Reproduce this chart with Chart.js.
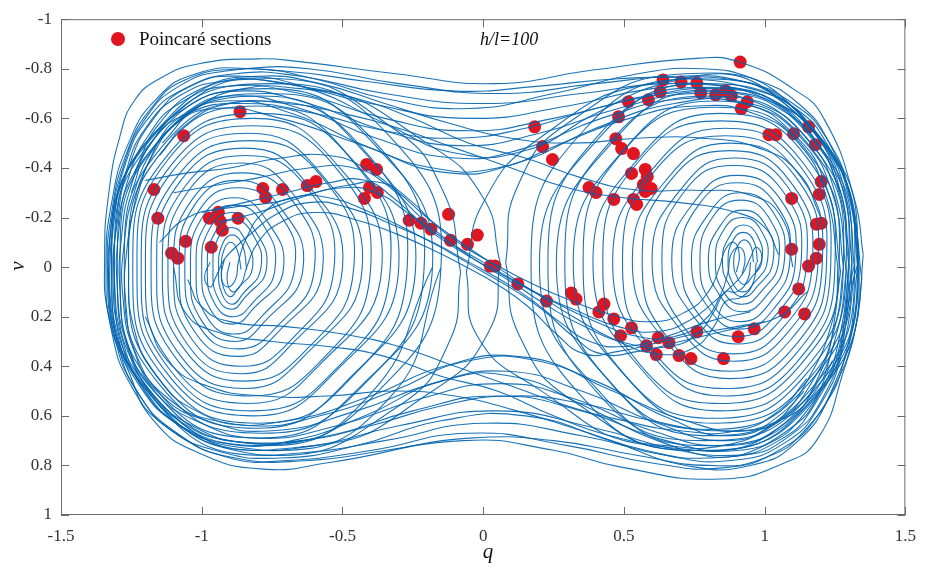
<!DOCTYPE html>
<html>
<head>
<meta charset="utf-8">
<script src="https://cdn.jsdelivr.net/npm/chart.js@4.4.1/dist/chart.umd.min.js"></script>
<style>
  html, body { margin: 0; background: #fff; }
</style>
</head>
<body>
<canvas id="phaseChart" width="927" height="570"></canvas>
<script>
// Axis ticks
const xTicks = [-1.5, -1, -0.5, 0, 0.5, 1, 1.5];
const yTicks = [-1, -0.8, -0.6, -0.4, -0.2, 0, 0.2, 0.4, 0.6, 0.8, 1];

// Poincare section points [q, v]
const sectionPoints = [
  [-1.170,-0.313],[-1.156,-0.197],[-1.107,-0.056],[-1.085,-0.036],[-1.057,-0.104],[-0.966,-0.080],
  [-0.973,-0.197],[-0.941,-0.221],[-0.934,-0.185],[-0.927,-0.149],[-0.871,-0.197],[-0.864,-0.627],
  [-1.064,-0.530],[-0.783,-0.317],[-0.773,-0.281],[-0.713,-0.313],[-0.625,-0.329],[-0.594,-0.345],
  [-0.414,-0.414],[-0.379,-0.394],[-0.404,-0.321],[-0.376,-0.301],[-0.422,-0.277],[-0.263,-0.189],
  [-0.221,-0.177],[-0.186,-0.153],[-0.123,-0.213],[-0.116,-0.108],[-0.056,-0.092],[-0.021,-0.129],
  [0.025,-0.004],[0.042,-0.004],[0.123,0.068],[0.225,0.137],[0.313,0.104],[0.330,0.129],
  [0.411,0.181],[0.429,0.149],[0.464,0.209],[0.488,0.277],[0.527,0.245],[0.580,0.317],
  [0.622,0.285],[0.660,0.305],[0.615,0.353],[0.696,0.357],[0.738,0.369],[0.759,0.261],
  [0.854,0.369],[0.906,0.281],[0.963,0.249],[1.071,0.181],[1.142,0.189],[1.121,0.088],
  [1.156,-0.004],[1.184,-0.036],[1.096,-0.072],[1.194,-0.092],[1.201,-0.177],[1.184,-0.173],
  [1.096,-0.277],[1.194,-0.293],[1.201,-0.345],[1.180,-0.494],[1.156,-0.566],[1.103,-0.538],
  [1.040,-0.534],[1.015,-0.534],[0.938,-0.667],[0.917,-0.639],[0.913,-0.827],[0.882,-0.691],
  [0.861,-0.711],[0.826,-0.695],[0.773,-0.703],[0.759,-0.743],[0.703,-0.747],[0.639,-0.755],
  [0.629,-0.707],[0.587,-0.675],[0.516,-0.667],[0.481,-0.606],[0.471,-0.518],[0.492,-0.478],
  [0.534,-0.458],[0.527,-0.378],[0.576,-0.394],[0.583,-0.365],[0.569,-0.333],[0.597,-0.317],
  [0.576,-0.305],[0.534,-0.273],[0.545,-0.253],[0.464,-0.273],[0.401,-0.301],[0.376,-0.321],
  [0.183,-0.566],[0.211,-0.486],[0.246,-0.434]
];

// trajectory winding around the left well, inside out
const leftWellSpiral = [
  [-0.86,0.01],[-0.874,-0.069],[-0.897,-0.10],[-0.921,-0.069],[-0.93,0.01],[-0.921,0.089],[-0.897,0.12],[-0.874,0.089],
  [-0.82,0.005],[-0.848,-0.114],[-0.894,-0.16],[-0.943,-0.114],[-0.96,0.005],[-0.943,0.124],[-0.894,0.17],[-0.848,0.124],
  [-0.77,0.005],[-0.816,-0.157],[-0.891,-0.22],[-0.971,-0.157],[-1.0,0.005],[-0.971,0.167],[-0.891,0.23],[-0.816,0.167],
  [-0.71,0.01],[-0.776,-0.199],[-0.883,-0.28],[-0.999,-0.199],[-1.04,0.01],[-0.999,0.219],[-0.883,0.30],[-0.776,0.219],
  [-0.64,0.005],[-0.728,-0.251],[-0.871,-0.35],[-1.025,-0.251],[-1.08,0.005],[-1.025,0.261],[-0.871,0.36],[-0.728,0.261],
  [-0.57,0.005],[-0.68,-0.301],[-0.859,-0.42],[-1.051,-0.301],[-1.12,0.005],[-1.051,0.311],[-0.859,0.43],[-0.68,0.311],
  [-0.50,0.005],[-0.632,-0.344],[-0.847,-0.48],[-1.078,-0.344],[-1.16,0.005],[-1.078,0.354],[-0.847,0.49],[-0.632,0.354],
  [-0.43,0.005],[-0.584,-0.387],[-0.834,-0.54],[-1.104,-0.387],[-1.20,0.005],[-1.104,0.397],[-0.834,0.55],[-0.584,0.397],
  [-0.36,0],[-0.534,-0.432],[-0.817,-0.60],[-1.121,-0.432],[-1.23,0],[-1.121,0.432],[-0.817,0.60],[-0.534,0.432],
  [-0.30,0],[-0.492,-0.468],[-0.804,-0.65],[-1.14,-0.468],[-1.26,0],[-1.14,0.468],[-0.804,0.65],[-0.492,0.468],
  [-0.24,0],[-0.45,-0.497],[-0.791,-0.69],[-1.159,-0.497],[-1.29,0],[-1.159,0.497],[-0.791,0.69],[-0.45,0.497],
  [-0.18,0],[-0.406,-0.518],[-0.773,-0.72],[-1.169,-0.518],[-1.31,0],[-1.169,0.518],[-0.773,0.72],[-0.406,0.518],[-0.18,0]
];

// a second pass around the left well, between the first loops
const leftWellSpiral2 = [
  [-0.84,0.01],[-0.856,-0.091],[-0.892,-0.13],[-0.927,-0.091],[-0.94,0.01],[-0.927,0.111],[-0.892,0.15],[-0.856,0.111],
  [-0.79,0.005],[-0.82,-0.135],[-0.888,-0.19],[-0.955,-0.135],[-0.98,0.005],[-0.955,0.145],[-0.888,0.20],[-0.82,0.145],
  [-0.74,0.01],[-0.785,-0.177],[-0.884,-0.25],[-0.984,-0.177],[-1.02,0.01],[-0.984,0.197],[-0.884,0.27],[-0.785,0.197],
  [-0.67,0.005],[-0.732,-0.229],[-0.871,-0.32],[-1.009,-0.229],[-1.06,0.005],[-1.009,0.239],[-0.871,0.33],[-0.732,0.239],
  [-0.60,0.01],[-0.68,-0.271],[-0.858,-0.38],[-1.035,-0.271],[-1.10,0.01],[-1.035,0.291],[-0.858,0.40],[-0.68,0.291],
  [-0.53,0.005],[-0.628,-0.323],[-0.844,-0.45],[-1.061,-0.323],[-1.14,0.005],[-1.061,0.333],[-0.844,0.46],[-0.628,0.333],
  [-0.46,0.005],[-0.575,-0.366],[-0.831,-0.51],[-1.086,-0.366],[-1.18,0.005],[-1.086,0.376],[-0.831,0.52],[-0.575,0.376],
  [-0.40,0.005],[-0.53,-0.409],[-0.82,-0.57],[-1.11,-0.409],[-1.215,0.005],[-1.11,0.419],[-0.82,0.58],[-0.53,0.419],
  [-0.33,0.005],[-0.476,-0.445],[-0.801,-0.62],[-1.126,-0.445],[-1.245,0.005],[-1.126,0.455],[-0.801,0.63],[-0.476,0.455],
  [-0.27,0],[-0.431,-0.482],[-0.788,-0.67],[-1.144,-0.482],[-1.275,0],[-1.144,0.482],[-0.788,0.67],[-0.431,0.482],
  [-0.21,0.005],[-0.384,-0.503],[-0.771,-0.70],[-1.158,-0.503],[-1.30,0.005],[-1.158,0.513],[-0.771,0.71],[-0.384,0.513],
  [-0.15,0],[-0.337,-0.533],[-0.753,-0.74],[-1.168,-0.533],[-1.32,0],[-1.168,0.533],[-0.753,0.74],[-0.337,0.533],[-0.15,0]
];

// trajectory winding around the right well, inside out
const rightWellSpiral = [
  [0.96,-0.02],[0.951,-0.085],[0.927,-0.11],[0.904,-0.085],[0.89,-0.02],[0.904,0.045],[0.927,0.07],[0.951,0.045],
  [0.99,-0.025],[0.973,-0.129],[0.924,-0.17],[0.878,-0.129],[0.85,-0.025],[0.878,0.079],[0.924,0.12],[0.973,0.079],
  [1.03,-0.025],[1.001,-0.173],[0.921,-0.23],[0.846,-0.173],[0.80,-0.025],[0.846,0.123],[0.921,0.18],[1.001,0.123],
  [1.07,-0.025],[1.029,-0.223],[0.913,-0.30],[0.806,-0.223],[0.74,-0.025],[0.806,0.173],[0.913,0.25],[1.029,0.173],
  [1.11,-0.03],[1.055,-0.275],[0.901,-0.37],[0.758,-0.275],[0.67,-0.03],[0.758,0.215],[0.901,0.31],[1.055,0.215],
  [1.15,-0.03],[1.081,-0.325],[0.889,-0.44],[0.71,-0.325],[0.60,-0.03],[0.71,0.265],[0.889,0.38],[1.081,0.265],
  [1.19,-0.025],[1.108,-0.367],[0.877,-0.50],[0.662,-0.367],[0.53,-0.025],[0.662,0.317],[0.877,0.45],[1.108,0.317],
  [1.22,-0.02],[1.125,-0.409],[0.859,-0.56],[0.612,-0.409],[0.46,-0.02],[0.612,0.369],[0.859,0.52],[1.125,0.369],
  [1.25,-0.02],[1.143,-0.452],[0.842,-0.62],[0.562,-0.452],[0.39,-0.02],[0.562,0.412],[0.842,0.58],[1.143,0.412],
  [1.28,-0.02],[1.16,-0.488],[0.824,-0.67],[0.512,-0.488],[0.32,-0.02],[0.512,0.448],[0.824,0.63],[1.16,0.448],
  [1.30,-0.015],[1.17,-0.515],[0.806,-0.71],[0.468,-0.515],[0.26,-0.015],[0.468,0.485],[0.806,0.68],[1.17,0.485],
  [1.32,-0.01],[1.18,-0.536],[0.788,-0.74],[0.424,-0.536],[0.20,-0.01],[0.424,0.516],[0.788,0.72],[1.18,0.516],[1.32,-0.01]
];

// a second pass around the right well
const rightWellSpiral2 = [
  [0.975,-0.02],[0.961,-0.106],[0.924,-0.14],[0.887,-0.106],[0.87,-0.02],[0.887,0.066],[0.924,0.10],[0.961,0.066],
  [1.01,-0.025],[0.986,-0.151],[0.92,-0.20],[0.855,-0.151],[0.825,-0.025],[0.855,0.101],[0.92,0.15],[0.986,0.101],
  [1.05,-0.025],[1.014,-0.201],[0.914,-0.27],[0.815,-0.201],[0.77,-0.025],[0.815,0.151],[0.914,0.22],[1.014,0.151],
  [1.09,-0.03],[1.04,-0.253],[0.903,-0.34],[0.767,-0.253],[0.705,-0.03],[0.767,0.193],[0.903,0.28],[1.04,0.193],
  [1.13,-0.03],[1.066,-0.304],[0.89,-0.41],[0.714,-0.304],[0.635,-0.03],[0.714,0.244],[0.89,0.35],[1.066,0.244],
  [1.17,-0.025],[1.091,-0.345],[0.877,-0.47],[0.662,-0.345],[0.565,-0.025],[0.662,0.295],[0.877,0.42],[1.091,0.295],
  [1.205,-0.02],[1.113,-0.387],[0.861,-0.53],[0.609,-0.387],[0.495,-0.02],[0.609,0.347],[0.861,0.49],[1.113,0.347],
  [1.235,-0.02],[1.13,-0.43],[0.842,-0.59],[0.555,-0.43],[0.425,-0.02],[0.555,0.39],[0.842,0.55],[1.13,0.39],
  [1.265,-0.02],[1.147,-0.472],[0.824,-0.645],[0.501,-0.472],[0.355,-0.02],[0.501,0.432],[0.824,0.61],[1.147,0.432],
  [1.29,-0.02],[1.16,-0.504],[0.805,-0.69],[0.45,-0.504],[0.29,-0.02],[0.45,0.464],[0.805,0.655],[1.16,0.464],
  [1.31,-0.01],[1.17,-0.523],[0.786,-0.725],[0.403,-0.523],[0.23,-0.01],[0.403,0.503],[0.786,0.70],[1.17,0.503],
  [1.33,-0.01],[1.179,-0.55],[0.767,-0.76],[0.356,-0.55],[0.17,-0.01],[0.356,0.53],[0.767,0.74],[1.179,0.53],[1.33,-0.01]
];

// wide single-well loops reaching into the saddle
const saddleLoops = [
  [[-0.08,0.02],[-0.14,-0.3],[-0.32,-0.56],[-0.72,-0.76],[-1.12,-0.6],[-1.33,-0.02],[-1.15,0.56],[-0.74,0.76],[-0.30,0.56],[-0.12,0.3],[-0.08,0.02]],
  [[0.06,-0.02],[0.0,-0.28],[-0.2,-0.50],[-0.6,-0.72],[-1.05,-0.66],[-1.325,-0.05],[-1.1,0.6],[-0.6,0.72],[-0.18,0.50],[0.02,0.26],[0.06,-0.02]],
  [[0.08,-0.02],[0.12,-0.32],[0.30,-0.58],[0.72,-0.78],[1.12,-0.62],[1.335,0.0],[1.15,0.56],[0.74,0.74],[0.32,0.54],[0.13,0.28],[0.08,-0.02]],
  [[-0.06,0.02],[0.0,-0.26],[0.2,-0.52],[0.6,-0.74],[1.05,-0.68],[1.33,-0.05],[1.1,0.6],[0.6,0.72],[0.18,0.48],[-0.02,0.28],[-0.06,0.02]]
];

// big orbits around both wells
const outerOrbits = [
  [[1.35,-0.05],[1.32,-0.27],[1.21,-0.60],[1.10,-0.72],[0.91,-0.827],[0.77,-0.843],[0.39,-0.795],[0.04,-0.74],[-0.31,-0.78],[-0.66,-0.83],[-0.80,-0.84],[-1.01,-0.82],[-1.15,-0.76],[-1.24,-0.67],[-1.29,-0.53],[-1.33,-0.30],[-1.345,-0.04],[-1.33,0.20],[-1.26,0.42],[-1.17,0.62],[-1.01,0.75],[-0.78,0.815],[-0.54,0.787],[-0.07,0.70],[0.25,0.739],[0.49,0.807],[0.84,0.855],[1.07,0.79],[1.19,0.69],[1.28,0.42],[1.33,0.20],[1.35,-0.05]],
  [[1.33,0.0],[1.30,-0.30],[1.22,-0.52],[1.10,-0.66],[0.92,-0.75],[0.70,-0.77],[0.40,-0.74],[0.05,-0.70],[-0.30,-0.74],[-0.62,-0.80],[-0.85,-0.80],[-1.05,-0.76],[-1.18,-0.64],[-1.27,-0.45],[-1.32,-0.22],[-1.335,0.02],[-1.31,0.28],[-1.23,0.50],[-1.10,0.66],[-0.90,0.77],[-0.70,0.78],[-0.40,0.74],[-0.05,0.67],[0.30,0.72],[0.60,0.79],[0.85,0.81],[1.05,0.74],[1.20,0.58],[1.29,0.34],[1.33,0.0]],
  [[1.32,0.02],[1.29,-0.28],[1.21,-0.50],[1.08,-0.64],[0.90,-0.72],[0.65,-0.74],[0.35,-0.70],[0.0,-0.66],[-0.35,-0.70],[-0.65,-0.77],[-0.88,-0.78],[-1.06,-0.72],[-1.19,-0.60],[-1.27,-0.42],[-1.31,-0.20],[-1.32,0.03],[-1.30,0.27],[-1.22,0.48],[-1.08,0.64],[-0.88,0.74],[-0.65,0.75],[-0.35,0.70],[0.0,0.63],[0.35,0.68],[0.65,0.76],[0.88,0.78],[1.07,0.71],[1.20,0.55],[1.28,0.32],[1.32,0.02]],
  [[1.31,-0.02],[1.28,-0.30],[1.19,-0.52],[1.05,-0.66],[0.85,-0.73],[0.60,-0.72],[0.30,-0.65],[-0.05,-0.60],[-0.40,-0.66],[-0.70,-0.74],[-0.92,-0.75],[-1.08,-0.69],[-1.20,-0.56],[-1.27,-0.38],[-1.305,-0.16],[-1.31,0.06],[-1.28,0.30],[-1.20,0.50],[-1.06,0.65],[-0.85,0.73],[-0.60,0.72],[-0.30,0.64],[0.05,0.58],[0.40,0.65],[0.70,0.74],[0.92,0.76],[1.09,0.68],[1.21,0.52],[1.28,0.28],[1.31,-0.02]],
  [[1.30,0.0],[1.26,-0.32],[1.16,-0.54],[1.02,-0.67],[0.82,-0.72],[0.55,-0.68],[0.25,-0.60],[-0.05,-0.55],[-0.35,-0.60],[-0.65,-0.70],[-0.90,-0.73],[-1.08,-0.66],[-1.19,-0.53],[-1.26,-0.36],[-1.295,-0.14],[-1.30,0.08],[-1.27,0.30],[-1.19,0.49],[-1.05,0.63],[-0.83,0.71],[-0.55,0.68],[-0.25,0.58],[0.05,0.52],[0.35,0.58],[0.65,0.70],[0.90,0.74],[1.08,0.66],[1.20,0.50],[1.27,0.26],[1.30,0.0]],
  [[1.29,0.02],[1.25,-0.30],[1.15,-0.52],[0.98,-0.66],[0.75,-0.70],[0.48,-0.64],[0.20,-0.54],[-0.08,-0.49],[-0.35,-0.55],[-0.62,-0.66],[-0.88,-0.71],[-1.06,-0.64],[-1.18,-0.50],[-1.25,-0.33],[-1.285,-0.12],[-1.29,0.10],[-1.26,0.32],[-1.17,0.50],[-1.02,0.62],[-0.80,0.69],[-0.52,0.64],[-0.22,0.53],[0.06,0.47],[0.32,0.53],[0.60,0.66],[0.87,0.72],[1.06,0.64],[1.18,0.48],[1.26,0.25],[1.29,0.02]],
  [[1.28,0.0],[1.24,-0.30],[1.13,-0.52],[0.96,-0.65],[0.72,-0.68],[0.42,-0.60],[0.15,-0.48],[-0.10,-0.44],[-0.38,-0.52],[-0.65,-0.64],[-0.90,-0.69],[-1.06,-0.62],[-1.17,-0.48],[-1.24,-0.30],[-1.275,-0.10],[-1.28,0.12],[-1.24,0.34],[-1.15,0.51],[-0.98,0.62],[-0.75,0.66],[-0.45,0.58],[-0.18,0.47],[0.08,0.42],[0.35,0.50],[0.62,0.63],[0.86,0.70],[1.04,0.63],[1.17,0.46],[1.25,0.24],[1.28,0.0]],
  [[1.27,0.02],[1.22,-0.32],[1.10,-0.54],[0.92,-0.66],[0.68,-0.66],[0.40,-0.56],[0.12,-0.42],[-0.12,-0.38],[-0.40,-0.48],[-0.68,-0.62],[-0.92,-0.67],[-1.07,-0.60],[-1.17,-0.46],[-1.23,-0.28],[-1.265,-0.08],[-1.27,0.14],[-1.23,0.36],[-1.13,0.52],[-0.95,0.62],[-0.70,0.62],[-0.40,0.52],[-0.14,0.40],[0.12,0.36],[0.40,0.46],[0.66,0.61],[0.88,0.68],[1.05,0.60],[1.16,0.44],[1.24,0.22],[1.27,0.02]],
  [[1.345,0.05],[1.31,-0.25],[1.23,-0.50],[1.12,-0.66],[0.96,-0.76],[0.78,-0.80],[0.55,-0.78],[0.25,-0.70],[-0.05,-0.64],[-0.35,-0.68],[-0.60,-0.76],[-0.82,-0.80],[-1.02,-0.78],[-1.16,-0.68],[-1.26,-0.50],[-1.32,-0.26],[-1.34,0.0],[-1.32,0.26],[-1.25,0.48],[-1.13,0.64],[-0.95,0.74],[-0.72,0.77],[-0.45,0.72],[-0.15,0.62],[0.15,0.60],[0.45,0.70],[0.72,0.80],[0.95,0.80],[1.12,0.70],[1.24,0.50],[1.32,0.26],[1.345,0.05]],
  [[1.30,-0.04],[1.27,-0.30],[1.18,-0.54],[1.04,-0.69],[0.86,-0.76],[0.64,-0.74],[0.40,-0.62],[0.15,-0.47],[-0.10,-0.46],[-0.35,-0.58],[-0.62,-0.72],[-0.86,-0.77],[-1.04,-0.73],[-1.17,-0.60],[-1.26,-0.40],[-1.30,-0.18],[-1.315,0.05],[-1.29,0.28],[-1.22,0.47],[-1.10,0.62],[-0.92,0.71],[-0.68,0.70],[-0.42,0.60],[-0.15,0.46],[0.10,0.44],[0.36,0.56],[0.62,0.70],[0.86,0.76],[1.05,0.70],[1.18,0.55],[1.27,0.30],[1.30,-0.04]],
  [[1.335,0.0],[1.30,-0.28],[1.22,-0.50],[1.11,-0.64],[0.95,-0.72],[0.74,-0.76],[0.48,-0.76],[0.20,-0.73],[-0.10,-0.71],[-0.42,-0.75],[-0.70,-0.79],[-0.92,-0.79],[-1.08,-0.73],[-1.20,-0.60],[-1.28,-0.40],[-1.32,-0.18],[-1.33,0.06],[-1.30,0.30],[-1.22,0.52],[-1.08,0.68],[-0.88,0.77],[-0.62,0.78],[-0.35,0.74],[-0.05,0.69],[0.25,0.70],[0.55,0.76],[0.80,0.80],[1.00,0.77],[1.15,0.65],[1.26,0.44],[1.32,0.20],[1.335,0.0]],
  [[1.26,0.0],[1.22,-0.28],[1.12,-0.50],[0.96,-0.62],[0.76,-0.65],[0.52,-0.60],[0.28,-0.50],[0.05,-0.40],[-0.18,-0.40],[-0.45,-0.50],[-0.72,-0.60],[-0.95,-0.64],[-1.10,-0.57],[-1.19,-0.42],[-1.245,-0.22],[-1.26,0.0],[-1.24,0.25],[-1.16,0.44],[-1.02,0.58],[-0.82,0.64],[-0.58,0.60],[-0.32,0.50],[-0.06,0.38],[0.20,0.38],[0.46,0.50],[0.72,0.62],[0.94,0.66],[1.10,0.58],[1.20,0.42],[1.25,0.20],[1.26,0.0]]
];

// runs passing through the saddle from one well to the other
const saddleCrossings = [
  [[-1.0,-0.22],[-0.85,-0.26],[-0.7,-0.30],[-0.55,-0.34],[-0.42,-0.35],[-0.32,-0.28],[-0.22,-0.18],[-0.12,-0.10],[0.0,-0.02],[0.12,0.06],[0.25,0.14],[0.40,0.22],[0.55,0.28],[0.68,0.28],[0.78,0.22],[0.84,0.12],[0.87,0.02],[0.88,-0.05],[0.91,-0.08],[0.93,-0.04],[0.92,0.03]],
  [[-0.95,-0.18],[-0.8,-0.22],[-0.65,-0.28],[-0.5,-0.32],[-0.38,-0.30],[-0.27,-0.22],[-0.17,-0.13],[-0.06,-0.05],[0.05,0.02],[0.18,0.10],[0.32,0.17],[0.48,0.24],[0.62,0.26],[0.74,0.21],[0.82,0.14],[0.88,0.08],[0.92,0.03],[0.95,-0.04],[0.97,-0.08],[0.99,-0.04],[0.97,0.02]],
  [[-1.1,-0.30],[-0.95,-0.33],[-0.8,-0.36],[-0.62,-0.40],[-0.46,-0.40],[-0.34,-0.33],[-0.24,-0.22],[-0.14,-0.12],[-0.03,-0.03],[0.1,0.06],[0.22,0.15],[0.36,0.24],[0.52,0.31],[0.66,0.32],[0.76,0.27],[0.82,0.18],[0.86,0.10],[0.90,0.10],[0.94,0.05],[0.95,-0.02]],
  [[1.0,0.22],[0.85,0.26],[0.7,0.30],[0.55,0.34],[0.42,0.35],[0.32,0.28],[0.22,0.18],[0.12,0.10],[0.0,0.02],[-0.12,-0.06],[-0.25,-0.14],[-0.40,-0.22],[-0.55,-0.28],[-0.68,-0.28],[-0.78,-0.22],[-0.84,-0.12],[-0.87,-0.02],[-0.88,0.05],[-0.91,0.08],[-0.93,0.04],[-0.92,-0.03]],
  [[-1.15,-0.10],[-1.05,-0.20],[-0.9,-0.24],[-0.75,-0.26],[-0.6,-0.30],[-0.48,-0.33],[-0.36,-0.34],[-0.26,-0.27],[-0.16,-0.16],[-0.05,-0.07],[0.06,0.0],[0.18,0.07],[0.30,0.13],[0.45,0.19],[0.60,0.22],[0.72,0.18],[0.80,0.10],[0.84,0.0],[0.86,-0.07],[0.89,-0.10],[0.91,-0.05],[0.90,0.02]],
  [[-1.2,-0.35],[-1.05,-0.38],[-0.9,-0.40],[-0.72,-0.44],[-0.55,-0.45],[-0.42,-0.40],[-0.30,-0.30],[-0.20,-0.20],[-0.08,-0.10],[0.05,0.0],[0.18,0.10],[0.32,0.20],[0.48,0.30],[0.62,0.35],[0.74,0.33],[0.82,0.24],[0.86,0.14],[0.92,0.12],[0.96,0.06],[0.97,-0.02]],
  [[0.95,0.18],[0.8,0.22],[0.65,0.28],[0.5,0.32],[0.38,0.30],[0.27,0.22],[0.17,0.13],[0.06,0.05],[-0.05,-0.02],[-0.18,-0.10],[-0.32,-0.17],[-0.48,-0.24],[-0.62,-0.26],[-0.74,-0.21],[-0.82,-0.14],[-0.88,-0.08],[-0.92,-0.03],[-0.95,0.04],[-0.97,0.08],[-0.99,0.04],[-0.97,-0.02]],
  [[1.15,0.10],[1.05,0.20],[0.9,0.24],[0.75,0.27],[0.6,0.31],[0.48,0.34],[0.36,0.35],[0.26,0.27],[0.16,0.16],[0.05,0.07],[-0.06,0.0],[-0.18,-0.07],[-0.30,-0.13],[-0.45,-0.19],[-0.60,-0.22],[-0.72,-0.18],[-0.80,-0.10],[-0.84,0.0],[-0.86,0.07],[-0.89,0.10],[-0.91,0.05],[-0.90,-0.02]]
];

// runs leaving a well along the bands
const bandRuns = [
  [[-1.05,0.05],[-1.0,0.16],[-0.9,0.22],[-0.7,0.24],[-0.5,0.27],[-0.3,0.32],[-0.1,0.40],[0.1,0.48],[0.3,0.56],[0.5,0.62],[0.7,0.66],[0.9,0.66],[1.05,0.58],[1.15,0.45]],
  [[-1.1,0.0],[-1.06,0.18],[-0.95,0.26],[-0.75,0.30],[-0.55,0.32],[-0.35,0.36],[-0.15,0.44],[0.05,0.50],[0.25,0.60],[0.45,0.68],[0.65,0.72],[0.85,0.72],[1.02,0.64],[1.14,0.50]],
  [[1.05,-0.05],[1.0,-0.16],[0.9,-0.22],[0.7,-0.26],[0.5,-0.28],[0.3,-0.32],[0.1,-0.40],[-0.1,-0.48],[-0.3,-0.56],[-0.5,-0.62],[-0.7,-0.66],[-0.9,-0.66],[-1.05,-0.58],[-1.15,-0.45]],
  [[1.1,0.0],[1.06,-0.2],[0.95,-0.29],[0.75,-0.31],[0.55,-0.31],[0.35,-0.36],[0.15,-0.44],[-0.05,-0.50],[-0.25,-0.60],[-0.45,-0.68],[-0.65,-0.72],[-0.85,-0.72],[-1.02,-0.64],[-1.14,-0.50]],
  [[-1.2,0.2],[-1.12,0.38],[-0.98,0.48],[-0.78,0.52],[-0.55,0.52],[-0.32,0.50],[-0.1,0.52],[0.12,0.58],[0.35,0.66],[0.58,0.74],[0.8,0.77],[1.0,0.72],[1.15,0.58],[1.24,0.38]],
  [[1.2,-0.2],[1.12,-0.38],[0.98,-0.48],[0.78,-0.52],[0.55,-0.52],[0.32,-0.50],[0.1,-0.52],[-0.12,-0.58],[-0.35,-0.66],[-0.58,-0.74],[-0.8,-0.77],[-1.0,-0.72],[-1.15,-0.58],[-1.24,-0.38]],
  [[-1.25,-0.3],[-1.18,-0.5],[-1.05,-0.62],[-0.85,-0.66],[-0.6,-0.62],[-0.35,-0.55],[-0.1,-0.52],[0.15,-0.56],[0.4,-0.64],[0.65,-0.70],[0.9,-0.70],[1.08,-0.62],[1.2,-0.48],[1.27,-0.3]],
  [[1.25,0.3],[1.18,0.5],[1.05,0.62],[0.85,0.66],[0.6,0.62],[0.35,0.55],[0.1,0.52],[-0.15,0.56],[-0.4,0.64],[-0.65,0.70],[-0.9,0.70],[-1.08,0.62],[-1.2,0.48],[-1.27,0.3]]
];

const lineColor = 'rgba(0, 100, 175, 0.9)';
const toXY = path => path.map(p => ({ x: p[0], y: p[1] }));

const trajectoryPaths = [leftWellSpiral, leftWellSpiral2, rightWellSpiral, rightWellSpiral2,
    ...saddleLoops, ...outerOrbits, ...saddleCrossings, ...bandRuns];
const datasets = trajectoryPaths.map(path => ({
    data: toXY(path),
    showLine: true,
    borderColor: lineColor,
    borderWidth: 1.1,
    pointRadius: 0,
    tension: 0.5,
    order: 1
}));
datasets.push({
    label: 'Poincaré sections',
    data: toXY(sectionPoints),
    showLine: false,
    pointRadius: 6.5,
    pointBackgroundColor: '#e01520',
    pointBorderWidth: 0,
    order: 2
});

// MATLAB-like box, inward ticks, legend and labels
const framePlugin = {
    id: 'frame',
    afterDraw(chart) {
        const { ctx, chartArea: a, scales } = chart;
        ctx.save();
        ctx.strokeStyle = '#6b6b6b';
        ctx.lineWidth = 1;
        ctx.strokeRect(a.left + 0.5, a.top + 0.5, a.right - a.left - 1, a.bottom - a.top - 1);
        ctx.beginPath();
        xTicks.forEach(t => {
            const px = Math.round(scales.x.getPixelForValue(t)) + 0.5;
            ctx.moveTo(px, a.bottom); ctx.lineTo(px, a.bottom - 8);
            ctx.moveTo(px, a.top); ctx.lineTo(px, a.top + 8);
        });
        yTicks.forEach(t => {
            const py = Math.round(scales.y.getPixelForValue(t)) + 0.5;
            ctx.moveTo(a.left, py); ctx.lineTo(a.left + 8, py);
            ctx.moveTo(a.right, py); ctx.lineTo(a.right - 8, py);
        });
        ctx.stroke();

        // legend
        ctx.fillStyle = '#e01520';
        ctx.beginPath();
        ctx.arc(118, 39, 7, 0, Math.PI * 2);
        ctx.fill();
        ctx.fillStyle = '#111';
        ctx.font = '19px "Liberation Serif"';
        ctx.textBaseline = 'alphabetic';
        ctx.textAlign = 'left';
        ctx.fillText('Poincaré sections', 139, 45);

        ctx.font = 'italic 18px "Liberation Serif"';
        ctx.fillText('h/l=100', 480, 45);

        // axis titles
        ctx.font = 'italic 21px "Liberation Serif"';
        ctx.textAlign = 'center';
        ctx.fillText('q', 488, 558);
        ctx.translate(24, 266);
        ctx.rotate(-Math.PI / 2);
        ctx.fillText('v', 0, 0);
        ctx.restore();
    }
};

const phaseChart = new Chart(document.getElementById('phaseChart'), {
    type: 'scatter',
    data: { datasets: datasets },
    options: {
        responsive: false,
        animation: false,
        layout: { padding: { top: 17, right: 13, left: 0, bottom: 0 } },
        plugins: { legend: { display: false }, tooltip: { enabled: false } },
        scales: {
            x: {
                min: -1.5, max: 1.5,
                grid: { display: false, drawTicks: false },
                border: { display: false },
                afterBuildTicks: s => { s.ticks = xTicks.map(v => ({ value: v })); },
                afterFit: s => { s.height = 55; },
                ticks: {
                    padding: 11,
                    color: '#333',
                    font: { family: '"Liberation Serif"', size: 17 },
                    maxRotation: 0,
                    callback: v => String(v)
                }
            },
            y: {
                min: -1, max: 1,
                reverse: true,
                grid: { display: false, drawTicks: false },
                border: { display: false },
                afterBuildTicks: s => { s.ticks = yTicks.map(v => ({ value: v })); },
                afterFit: s => { s.width = 61; },
                ticks: {
                    padding: 9,
                    color: '#333',
                    font: { family: '"Liberation Serif"', size: 17 },
                    callback: v => String(v)
                }
            }
        }
    },
    plugins: [framePlugin]
});
</script>
</body>
</html>
